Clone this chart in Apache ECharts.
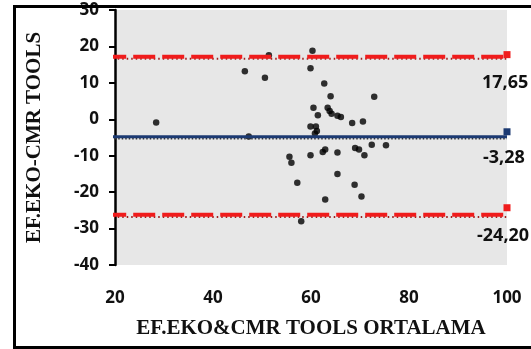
<!DOCTYPE html>
<html>
<head>
<meta charset="utf-8">
<script src="https://cdn.jsdelivr.net/npm/echarts@6/dist/echarts.min.js"></script>
<style>
  html, body { margin: 0; padding: 0; background: #fff; }
  #chart { width: 531px; height: 349px; }
</style>
</head>
<body>
<div id="chart"></div>
<script>
(function () {

	// mean of the two methods (x) and their difference (y)
	var meanVals = [28.4, 46.5, 50.6, 47.3, 51.4, 60.3, 59.9, 62.7, 64.0, 72.9,
		60.5, 61.4, 63.4, 63.8, 64.2, 65.4, 66.1, 68.4, 70.6, 59.9,
		61.0, 61.2, 60.8, 55.6, 56.0, 59.9, 62.4, 62.9, 65.4, 69.0,
		69.8, 70.9, 72.4, 75.3, 65.4, 57.2, 68.9, 70.3, 62.9, 58.0];
	var diffVals = [-0.9, 13.2, 11.4, -4.7, 17.6, 18.8, 14.0, 9.8, 6.3, 6.2,
		3.2, 1.1, 3.2, 2.3, 1.5, 1.0, 0.6, -1.0, -0.6, -2.0,
		-2.0, -3.2, -3.9, -10.3, -11.9, -9.9, -9.0, -8.3, -9.1, -7.9,
		-8.3, -9.9, -7.0, -7.1, -15.0, -17.4, -18.0, -21.2, -22.0, -28.0];

	// limits of agreement lines (drawn position) and their printed labels
	var lineStart = 17.8;
	var lineEnd = 100;
	var upperLimit = 17.2;
	var meanDiff = -4.8;
	var lowerLimit = -26.2;
	var limitLabels = ['17,65', '-3,28', '-24,20'];

	var xTicks = [20, 40, 60, 80, 100];
	var yTicks = [-40, -30, -20, -10, 0, 10, 20, 30];

	var RED = '#f01c1c';
	var BLUE = '#1c3a72';

	var points = [];
	for (var i = 0; i < meanVals.length; i++) points.push([meanVals[i], diffVals[i]]);

	function hLine(y, color, type, width, endOffset, z) {
		return {
			type: 'line', clip: false, z: z || 3,
			lineStyle: { color: color, width: width, type: type },
			itemStyle: { color: color },
			data: [
				{ value: [lineStart, y], symbol: 'none' },
				{ value: [lineEnd, y], symbol: endOffset === null ? 'none' : 'rect', symbolSize: 7, symbolOffset: [0, endOffset] }
			],
			silent: true
		};
	}

	var chart = echarts.init(document.getElementById('chart'));

	chart.setOption({
		animation: false,
		grid: {
			left: 115, right: 24, top: 10, bottom: 84,
			show: true, backgroundColor: '#e7e7e7', borderWidth: 0
		},
		xAxis: {
			type: 'value', min: xTicks[0], max: xTicks[xTicks.length - 1], interval: 20,
			name: 'EF.EKO&CMR TOOLS ORTALAMA', nameLocation: 'middle', nameGap: 53,
			nameTextStyle: { fontFamily: 'Liberation Serif', fontWeight: 'bold', fontSize: 21, color: '#111', verticalAlign: 'top' },
			axisLine: { show: false }, axisTick: { show: false }, splitLine: { show: false },
			axisLabel: { margin: 25, fontFamily: 'Open Sans', fontWeight: 'bold', fontSize: 17, color: '#111' }
		},
		yAxis: {
			type: 'value', min: yTicks[0], max: yTicks[yTicks.length - 1], interval: 10,
			name: 'EF.EKO-CMR TOOLS', nameLocation: 'middle', nameGap: 70,
			nameTextStyle: { fontFamily: 'Liberation Serif', fontWeight: 'bold', fontSize: 21, color: '#111' },
			axisLine: { show: true, lineStyle: { color: '#000', width: 2.5 } },
			axisTick: { show: true, length: 6, lineStyle: { color: '#000', width: 2 } },
			splitLine: { show: false },
			axisLabel: { margin: 16, fontFamily: 'Open Sans', fontWeight: 'bold', fontSize: 17, color: '#111' }
		},
		series: [
			{
				type: 'scatter', z: 1,
				symbol: 'circle', symbolSize: 6.5,
				itemStyle: { color: '#000' },
				data: points
			},
			hLine(upperLimit - 0.6, '#a02020', [1.5, 3], 2, null, 2),
			hLine(lowerLimit - 0.6, '#a02020', [1.5, 3], 2, null, 2),
			hLine(meanDiff - 0.55, '#333', [1.5, 2], 1.5, null, 2),
			hLine(upperLimit, RED, [22, 7], 4, -2),
			hLine(meanDiff, BLUE, 'solid', 3, -5),
			hLine(lowerLimit, RED, [22, 7], 4, -7)
		],
		graphic: [
			{ type: 'rect', left: 12, top: 4, z: 10, silent: true,
				shape: { width: 530, height: 341 },
				style: { fill: 'none', stroke: '#000', lineWidth: 3 } },
			{ type: 'text', left: 482, top: 74, style: { text: limitLabels[0], font: 'bold 18px "Open Sans"', fill: '#111' } },
			{ type: 'text', left: 483, top: 149, style: { text: limitLabels[1], font: 'bold 18px "Open Sans"', fill: '#111' } },
			{ type: 'text', left: 477, top: 227, style: { text: limitLabels[2], font: 'bold 18px "Open Sans"', fill: '#111' } }
		]
	});

})();
</script>
</body>
</html>
